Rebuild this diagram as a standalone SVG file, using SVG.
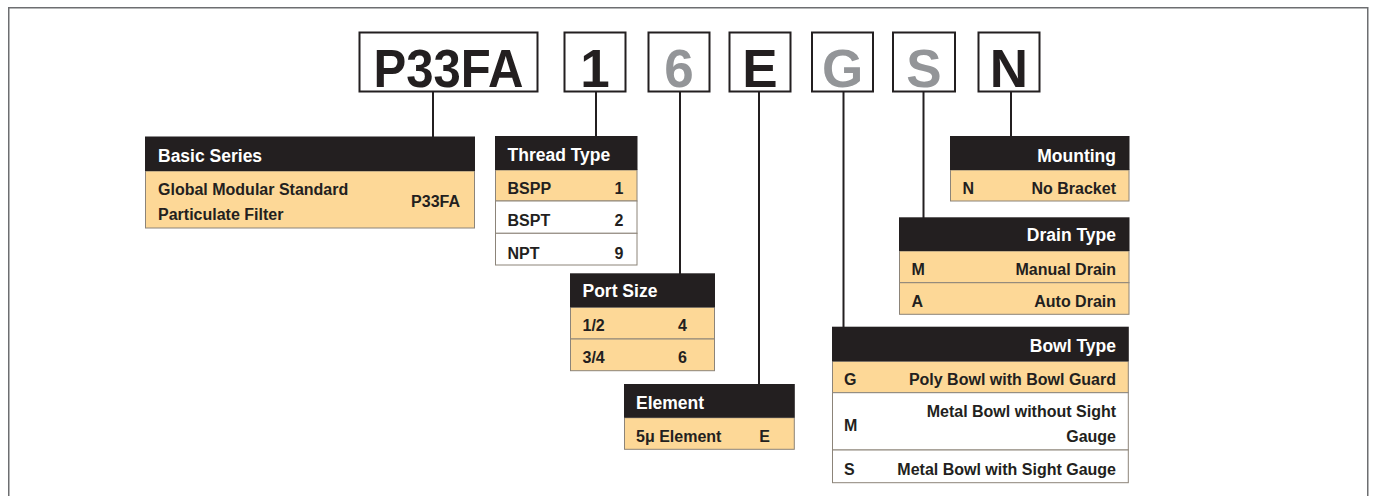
<svg xmlns="http://www.w3.org/2000/svg" width="1375" height="496" viewBox="0 0 1375 496">
<style>
text{font-family:"Liberation Sans",Arial,sans-serif;font-weight:bold;fill:#231f20}
.code{fill:#fff;stroke:#231f20;stroke-width:2}
.big{font-size:53px;text-anchor:middle}
.gray{fill:#939598}
.hd{fill:#231f20}
.ht{fill:#fff;font-size:17.5px}
.row{fill:#fdd897;stroke:#8c8479;stroke-width:1}
.wrow{fill:#fff;stroke:#8c8479;stroke-width:1}
.t{font-size:16px}
.r{text-anchor:end}
.con{stroke:#231f20;stroke-width:2;fill:none}
</style>
<rect x="8.75" y="7.75" width="1359" height="500" fill="none" stroke="#6d6e71" stroke-width="1.5"/>
<g id="connectors">
<line class="con" x1="433" y1="92" x2="433" y2="137"/>
<line class="con" x1="596" y1="92" x2="596" y2="136"/>
<line class="con" x1="680" y1="92" x2="680" y2="274"/>
<line class="con" x1="759" y1="92" x2="759" y2="384"/>
<line class="con" x1="843.5" y1="92" x2="843.5" y2="327"/>
<line class="con" x1="923.5" y1="92" x2="923.5" y2="218"/>
<line class="con" x1="1011" y1="92" x2="1011" y2="136"/>
</g>
<g id="code-p33fa"><rect class="code" x="359.5" y="32.5" width="178" height="59"/><text class="big" x="448.5" y="86.5" textLength="150" lengthAdjust="spacingAndGlyphs">P33FA</text></g>
<g id="code-1"><rect class="code" x="564.5" y="32.5" width="61" height="59"/><text class="big" x="595" y="86.5">1</text></g>
<g id="code-6"><rect class="code" x="648.5" y="32.5" width="61" height="59"/><text class="big gray" x="679" y="86.5">6</text></g>
<g id="code-e"><rect class="code" x="729.5" y="32.5" width="61" height="59"/><text class="big" x="760" y="86.5">E</text></g>
<g id="code-g"><rect class="code" x="812" y="32.5" width="61" height="59"/><text class="big gray" x="842.5" y="86.5">G</text></g>
<g id="code-s"><rect class="code" x="893" y="32.5" width="62" height="59"/><text class="big gray" x="924" y="86.5">S</text></g>
<g id="code-n"><rect class="code" x="978.5" y="32.5" width="61" height="59"/><text class="big" x="1009" y="86.5">N</text></g>

<g id="basic-series">
<rect class="row" x="145.5" y="171" width="329" height="57"/>
<rect class="hd" x="145" y="136.5" width="330" height="34.5"/>
<text class="ht" x="158" y="161.5">Basic Series</text>
<text class="t" x="158" y="194.5">Global Modular Standard</text>
<text class="t" x="158" y="219.5">Particulate Filter</text>
<text class="t r" x="460" y="206.5">P33FA</text>
</g>

<g id="thread-type">
<rect class="row" x="495.5" y="170" width="141.5" height="31"/>
<rect class="wrow" x="495.5" y="201" width="141.5" height="32.3"/>
<rect class="wrow" x="495.5" y="233.3" width="141.5" height="31.7"/>
<rect class="hd" x="495" y="136" width="142.5" height="34"/>
<text class="ht" x="507.5" y="160.5">Thread Type</text>
<text class="t" x="507.5" y="193.5">BSPP</text><text class="t r" x="623.5" y="193.5">1</text>
<text class="t" x="507.5" y="226">BSPT</text><text class="t r" x="623.5" y="226">2</text>
<text class="t" x="507.5" y="258.5">NPT</text><text class="t r" x="623.5" y="258.5">9</text>
</g>

<g id="port-size">
<rect class="row" x="570.5" y="307.3" width="144" height="31.7"/>
<rect class="row" x="570.5" y="339" width="144" height="31.7"/>
<rect class="hd" x="570" y="273.3" width="145" height="34"/>
<text class="ht" x="582.5" y="297">Port Size</text>
<text class="t" x="582.5" y="331">1/2</text><text class="t r" x="687" y="331">4</text>
<text class="t" x="582.5" y="362.5">3/4</text><text class="t r" x="687" y="362.5">6</text>
</g>

<g id="element">
<rect class="row" x="624.5" y="417.7" width="169.8" height="31.6"/>
<rect class="hd" x="624" y="384" width="170.8" height="33.7"/>
<text class="ht" x="636" y="408.5">Element</text>
<text class="t" x="636" y="442">5μ Element</text><text class="t r" x="770" y="442">E</text>
</g>

<g id="bowl-type">
<rect class="row" x="832.5" y="361.3" width="295.8" height="31.4"/>
<rect class="wrow" x="832.5" y="392.7" width="295.8" height="57.3"/>
<rect class="wrow" x="832.5" y="450" width="295.8" height="32.7"/>
<rect class="hd" x="832" y="326.7" width="296.8" height="34.6"/>
<text class="ht r" x="1116" y="352">Bowl Type</text>
<text class="t" x="844" y="384.5">G</text><text class="t r" x="1116" y="384.5">Poly Bowl with Bowl Guard</text>
<text class="t" x="844" y="431">M</text><text class="t r" x="1116" y="417">Metal Bowl without Sight</text><text class="t r" x="1116" y="442">Gauge</text>
<text class="t" x="844" y="475">S</text><text class="t r" x="1116" y="475">Metal Bowl with Sight Gauge</text>
</g>

<g id="drain-type">
<rect class="row" x="899.5" y="251" width="229.5" height="31.7"/>
<rect class="row" x="899.5" y="282.7" width="229.5" height="31.6"/>
<rect class="hd" x="899" y="217.3" width="230.5" height="33.7"/>
<text class="ht r" x="1116" y="241">Drain Type</text>
<text class="t" x="911.5" y="275">M</text><text class="t r" x="1116" y="275">Manual Drain</text>
<text class="t" x="911.5" y="307">A</text><text class="t r" x="1116" y="307">Auto Drain</text>
</g>

<g id="mounting">
<rect class="row" x="950.5" y="170" width="178.5" height="31"/>
<rect class="hd" x="950" y="136" width="179.5" height="34"/>
<text class="ht r" x="1116" y="162">Mounting</text>
<text class="t" x="962.5" y="193.5">N</text><text class="t r" x="1116" y="193.5">No Bracket</text>
</g>
</svg>
